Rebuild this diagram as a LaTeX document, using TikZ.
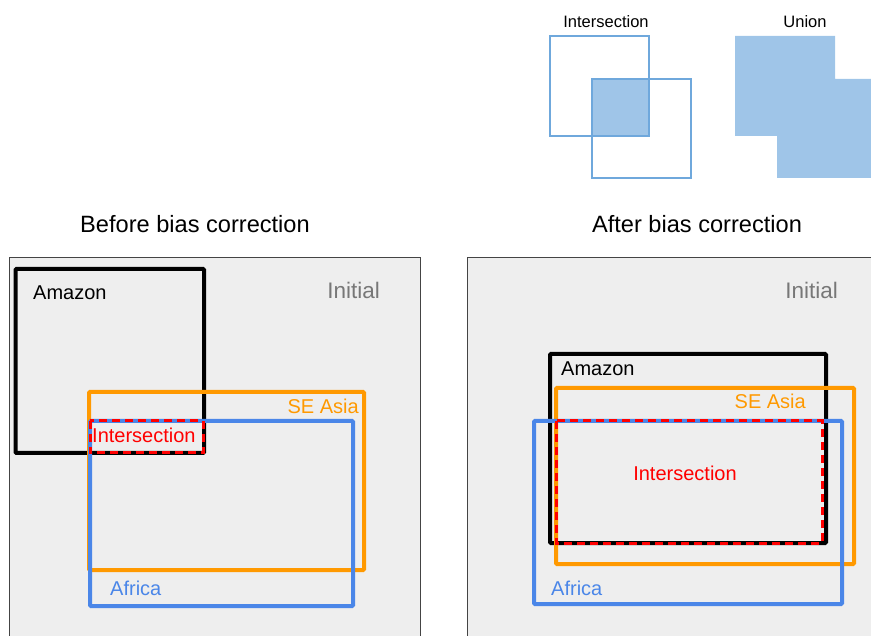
\documentclass[tikz,border=0pt]{standalone}
\usepackage{fontspec}
\setmainfont{Liberation Sans}
\definecolor{gorange}{HTML}{FF9900}
\definecolor{gblue}{HTML}{4A86E8}
\definecolor{lblue}{HTML}{9FC5E8}
\definecolor{sqline}{HTML}{6FA8DC}
\definecolor{panelbg}{HTML}{EEEEEE}
\definecolor{panelline}{HTML}{444444}
\definecolor{initgray}{HTML}{777777}
\begin{document}
\begin{tikzpicture}[x=1pt,y=-1pt,
  panel/.style={fill=panelbg,draw=panelline,line width=0.9pt},
  amz/.style={draw=black,line width=4pt,rounded corners=1pt},
  sea/.style={draw=gorange,line width=4pt,rounded corners=1pt},
  afr/.style={draw=gblue,line width=4pt,rounded corners=1pt},
  inter/.style={draw=red,line width=3pt,dash pattern=on 8pt off 5pt},
  lbl/.style={inner sep=0pt,font=\fontsize{20}{20}\selectfont},
  ttl/.style={inner sep=0pt,font=\fontsize{23.6}{23.6}\selectfont},
  small/.style={inner sep=0pt,font=\fontsize{16.5}{16.5}\selectfont},
  sq/.style={draw=sqline,line width=1.2pt}]
\useasboundingbox (0,0) rectangle (871,636);
\clip (0,0) rectangle (871,636);
% top-right inset
\fill[lblue] (592,79) rectangle (649,136);
\draw[sq] (550,36) rectangle (649,136);
\draw[sq] (592,79) rectangle (691,178);
\node[small] (tInt) at (606,22) {Intersection};
\fill[lblue] (735,36) -- (835,36) -- (835,79) -- (880,79) -- (880,178) -- (777,178) -- (777,136) -- (735,136) -- cycle;
\node[small] (tUni) at (805,22) {Union};
% titles
\node[ttl] (tBefore) at (195,224) {Before bias correction};
\node[ttl] (tAfter) at (697,224) {After bias correction};
% left panel
\draw[panel] (9,257) rectangle (420,660);
\draw[amz] (15.5,269) rectangle (204,453);
\draw[sea] (89,392) rectangle (364,570);
\draw[afr] (90,421) rectangle (353,606);
\draw[inter] (90,421) rectangle (203,453);
\node[lbl,anchor=west] (lAmz) at (33,293) {Amazon};
\node[lbl,anchor=east,text=initgray,font=\fontsize{22.5}{22.5}\selectfont] (lInit) at (380,290) {Initial};
\node[lbl,anchor=east,text=gorange] (lSea) at (359,406) {SE Asia};
\node[lbl,anchor=west,text=gblue] (lAfr) at (110,588) {Africa};
\node[lbl,anchor=west,text=red] (lInt) at (92,435) {Intersection};
% right panel
\draw[panel] (467,257) rectangle (900,660);
\draw[amz] (550,354) rectangle (826,543);
\draw[sea] (556,388) rectangle (854,564);
\draw[afr] (534,421) rectangle (842,604);
\draw[inter] (556,421) rectangle (822,543);
\node[lbl,anchor=west] (rAmz) at (561,369) {Amazon};
\node[lbl,anchor=east,text=initgray,font=\fontsize{22.5}{22.5}\selectfont] (rInit) at (838,290) {Initial};
\node[lbl,anchor=east,text=gorange] (rSea) at (806,401) {SE Asia};
\node[lbl,anchor=west,text=gblue] (rAfr) at (551,588) {Africa};
\node[lbl,text=red] (rInt) at (685,473) {Intersection};
\end{tikzpicture}
\end{document}
